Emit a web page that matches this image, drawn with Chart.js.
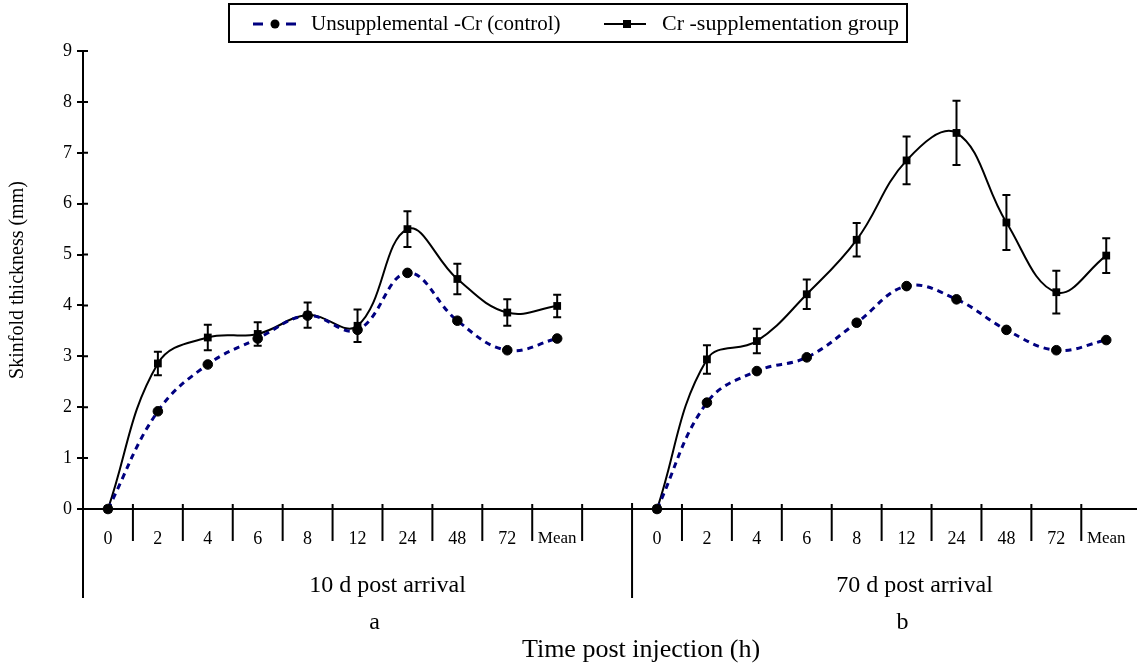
<!DOCTYPE html>
<html>
<head>
<meta charset="utf-8">
<script src="https://cdn.jsdelivr.net/npm/chart.js@4.4.1/dist/chart.umd.min.js"></script>
<style>
  html, body { margin: 0; padding: 0; background: #ffffff; }
  #wrap { position: relative; width: 1137px; height: 666px; }
</style>
</head>
<body>
<div id="wrap"><canvas id="c" width="1137" height="666"></canvas></div>
<script>
// ---- data ----
const categories = ['0','2','4','6','8','12','24','48','72','Mean','','0','2','4','6','8','12','24','48','72','Mean'];
const groupLabels = ['10 d post arrival', '70 d post arrival'];
const panelLetters = ['a', 'b'];
const seriesNames = ['Unsupplemental -Cr (control)', 'Cr -supplementation group'];
const controlValues = [0, 1.92, 2.84, 3.35, 3.80, 3.52, 4.64, 3.70, 3.12, 3.35, null,
                       0, 2.09, 2.71, 2.98, 3.66, 4.38, 4.12, 3.52, 3.12, 3.32];
const crValues      = [0, 2.86, 3.37, 3.44, 3.81, 3.60, 5.50, 4.52, 3.86, 3.99, null,
                       0, 2.94, 3.30, 4.22, 5.29, 6.85, 7.39, 5.63, 4.26, 4.98];
const crErrors      = [0, 0.23, 0.25, 0.23, 0.25, 0.32, 0.35, 0.30, 0.26, 0.22, null,
                       0, 0.28, 0.24, 0.29, 0.33, 0.47, 0.63, 0.54, 0.42, 0.34];
const yTitle = 'Skinfold thickness (mm)';
const xTitle = 'Time post injection (h)';
const yMin = 0, yMax = 9, yStep = 1;

const SERIF = '"Liberation Serif", "Times New Roman", Times, serif';
const NAVY = '#000080';

const decorPlugin = {
  id: 'decor',
  afterDatasetsDraw(chart) {
    const ctx = chart.ctx;
    const xs = chart.scales.x, ys = chart.scales.y;
    ctx.save();
    ctx.strokeStyle = '#000';
    ctx.lineWidth = 2;
    crValues.forEach((v, i) => {
      const e = crErrors[i];
      if (v === null || !e) return;
      const x = xs.getPixelForValue(i);
      const yt = ys.getPixelForValue(v + e), yb = ys.getPixelForValue(v - e);
      ctx.beginPath();
      ctx.moveTo(x, yt); ctx.lineTo(x, yb);
      ctx.moveTo(x - 4, yt); ctx.lineTo(x + 4, yt);
      ctx.moveTo(x - 4, yb); ctx.lineTo(x + 4, yb);
      ctx.stroke();
    });
    ctx.restore();
  },
  afterDraw(chart) {
    const ctx = chart.ctx;
    const xs = chart.scales.x, ys = chart.scales.y;
    const area = chart.chartArea;
    const y0 = ys.getPixelForValue(0);
    const W = chart.width;
    const bottomLine = 598;
    ctx.save();
    ctx.strokeStyle = '#000';
    ctx.fillStyle = '#000';
    ctx.lineWidth = 2;
    // x axis line
    ctx.beginPath();
    ctx.moveTo(area.left, y0); ctx.lineTo(W, y0);
    // y-axis extension downward
    ctx.moveTo(area.left, y0); ctx.lineTo(area.left, bottomLine);
    // inward y ticks
    for (let v = yMin; v <= yMax; v += yStep) {
      const yy = ys.getPixelForValue(v);
      ctx.moveTo(area.left, yy); ctx.lineTo(area.left + 5, yy);
    }
    ctx.stroke();
    // category boundaries
    const half = (xs.getPixelForValue(1) - xs.getPixelForValue(0)) / 2;
    let sepX = null;
    ctx.beginPath();
    for (let i = 0; i < categories.length - 1; i++) {
      const bx = xs.getPixelForValue(i) + half;
      if (categories[i] === '') { sepX = bx; ctx.moveTo(bx, y0 - 6); ctx.lineTo(bx, bottomLine); continue; }
      ctx.moveTo(bx, y0 - 5); ctx.lineTo(bx, y0 + 32);
    }
    ctx.stroke();
    // category labels
    ctx.textAlign = 'center';
    ctx.textBaseline = 'middle';
    categories.forEach((c, i) => {
      if (!c) return;
      ctx.font = (c === 'Mean' ? '17px ' : '18px ') + SERIF;
      ctx.fillText(c, xs.getPixelForValue(i), y0 + 30);
    });
    // group labels
    const g1c = (area.left + sepX) / 2;
    const g2c = (sepX + W) / 2;
    ctx.font = '24px ' + SERIF;
    ctx.fillText(groupLabels[0], g1c + 30, 586);
    ctx.fillText(groupLabels[1], g2c + 30, 586);
    ctx.fillText(panelLetters[0], g1c + 17, 623);
    ctx.fillText(panelLetters[1], g2c + 18, 623);
    ctx.font = '26px ' + SERIF;
    ctx.fillText(xTitle, (area.left + W) / 2 + 31, 650);
    // y title
    ctx.save();
    ctx.translate(18, (area.top + y0) / 2);
    ctx.rotate(-Math.PI / 2);
    ctx.font = '20px ' + SERIF;
    ctx.fillText(yTitle, 0, 0);
    ctx.restore();
    // legend
    const lx = 229, ly = 4, lw = 678, lh = 38, cy = ly + lh / 2 + 1;
    ctx.fillStyle = '#fff';
    ctx.fillRect(lx, ly, lw, lh);
    ctx.strokeStyle = '#000';
    ctx.lineWidth = 2;
    ctx.strokeRect(lx, ly, lw, lh);
    // sample 1
    ctx.strokeStyle = NAVY; ctx.lineWidth = 3;
    ctx.beginPath();
    ctx.moveTo(253, cy); ctx.lineTo(263, cy);
    ctx.moveTo(286, cy); ctx.lineTo(296, cy);
    ctx.stroke();
    ctx.fillStyle = '#000';
    ctx.beginPath(); ctx.arc(275, cy, 4.5, 0, Math.PI * 2); ctx.fill();
    // sample 2
    ctx.strokeStyle = '#000'; ctx.lineWidth = 2;
    ctx.beginPath(); ctx.moveTo(604, cy); ctx.lineTo(646, cy); ctx.stroke();
    ctx.fillRect(623, cy - 4, 8, 8);
    ctx.textAlign = 'left';
    ctx.font = '21px ' + SERIF;
    ctx.fillText(seriesNames[0], 311, cy);
    ctx.font = '22px ' + SERIF;
    ctx.fillText(seriesNames[1], 662, cy);
    ctx.restore();
  }
};

new Chart(document.getElementById('c'), {
  type: 'line',
  data: {
    labels: categories,
    datasets: [
      {
        label: seriesNames[0],
        data: controlValues,
        borderColor: NAVY,
        borderWidth: 3,
        borderDash: [6, 5],
        tension: 0.4,
        spanGaps: false,
        pointStyle: 'circle',
        pointRadius: 4.8,
        pointBackgroundColor: '#000',
        pointBorderColor: '#000',
        pointBorderWidth: 1,
        fill: false,
        clip: false
      },
      {
        label: seriesNames[1],
        data: crValues,
        borderColor: '#000',
        borderWidth: 2,
        tension: 0.4,
        spanGaps: false,
        pointStyle: 'rect',
        pointRadius: 5.5,
        pointBackgroundColor: '#000',
        pointBorderColor: '#000',
        pointBorderWidth: 0,
        fill: false,
        clip: false
      }
    ]
  },
  options: {
    responsive: false,
    animation: false,
    devicePixelRatio: 1,
    layout: { padding: { top: 51, bottom: 157, left: 0, right: 0 } },
    plugins: { legend: { display: false }, tooltip: { enabled: false }, title: { display: false } },
    scales: {
      x: {
        type: 'category',
        offset: true,
        display: false,
        grid: { display: false }
      },
      y: {
        min: yMin, max: yMax,
        afterFit(scale) { scale.width = 83; },
        ticks: { stepSize: yStep, color: '#000', font: { family: SERIF, size: 18 }, padding: 5 },
        grid: { display: true, drawOnChartArea: false, drawTicks: true, tickLength: 6, color: '#000', lineWidth: 2 },
        border: { display: true, color: '#000', width: 2 }
      }
    }
  },
  plugins: [decorPlugin]
});
</script>
</body>
</html>
